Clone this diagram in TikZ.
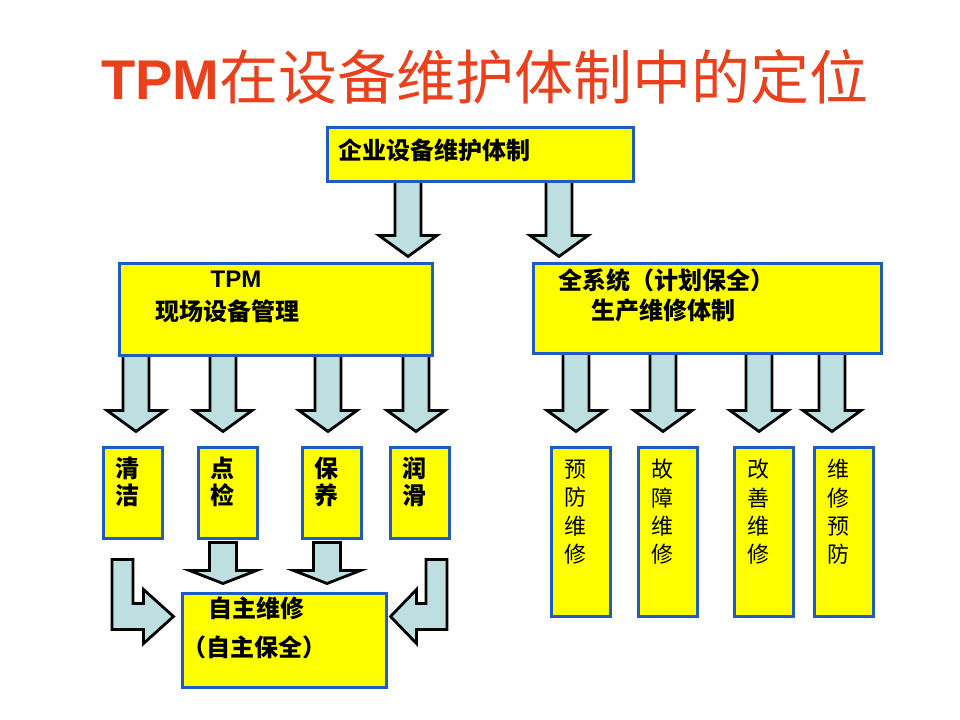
\documentclass[tikz,border=0pt]{standalone}
\usepackage{fontspec}
\setmainfont{Noto Sans CJK SC}
\newfontfamily\latfont{Liberation Sans}
\usetikzlibrary{calc,positioning,backgrounds}

\definecolor{boxblue}{RGB}{30,92,196}
\definecolor{boxyellow}{RGB}{255,255,0}
\definecolor{arrowfill}{RGB}{190,223,226}
\definecolor{titlered}{RGB}{234,64,28}

% block arrow pointing down: x, from node, to node, shift at start, shift at tip
\def\shaftw{13bp}
\def\headw{29bp}
\def\headl{21bp}
\newcommand{\dnarrow}[5]{%
  \edef\arrx{#1}%
  \path[blockarrow] let \p1=([yshift=#4bp]#2.south), \p2=([yshift=#5bp]#3.north) in
    (\arrx bp-\shaftw,\y1) -- (\arrx bp-\shaftw,\y2+\headl) -- (\arrx bp-\headw,\y2+\headl)
    -- (\arrx bp,\y2) -- (\arrx bp+\headw,\y2+\headl) -- (\arrx bp+\shaftw,\y2+\headl)
    -- (\arrx bp+\shaftw,\y1) -- cycle;}

\begin{document}
\begin{tikzpicture}[x=1bp, y=-1bp,
    ybox/.style={draw=boxblue, fill=boxyellow, line width=3bp, inner sep=0pt},
    blockarrow/.style={draw=black, fill=arrowfill, line width=2.8bp, line join=miter},
    boxtext/.style={inner sep=0pt, align=left, font=\bfseries\fontsize{24bp}{33bp}\selectfont},
    coltext/.style={inner sep=0pt, align=center, font=\bfseries\fontsize{24bp}{27bp}\selectfont},
    thintext/.style={inner sep=0pt, align=center, font=\fontsize{22bp}{28.3bp}\selectfont},
]

\useasboundingbox (0,0) rectangle (960,720);

% === Title ===
\node[anchor=base, text=titlered, inner sep=0pt] (title) at (485,100)
    {{\latfont\bfseries\fontsize{56bp}{60bp}\selectfont TPM}{\fontsize{59bp}{66bp}\selectfont 在设备维护体制中的定位}};

% === Top level ===
\node[ybox, minimum width=306bp, minimum height=53bp] (top) at (480,154.5) {};
\node[boxtext, anchor=west] (toptxt) at ([xshift=13bp,yshift=4.5bp]top.west) {企业设备维护体制};

% === Second level ===
\node[ybox, minimum width=312bp, minimum height=92bp] (tpm) at (276,309) {};
\node[boxtext, anchor=west] (tpmtxt) at ([xshift=37bp,yshift=12.5bp]tpm.west)
    {\hspace*{55bp}{\latfont TPM}\\现场设备管理};
\node[ybox, minimum width=348bp, minimum height=90bp] (pss) at (707,308) {};
\node[boxtext, anchor=west, font=\bfseries\fontsize{24bp}{30bp}\selectfont] (psstxt) at ([xshift=27bp,yshift=13bp]pss.west)
    {全系统（计划保全）\\\hspace*{33bp}生产维修体制};

% === TPM items ===
\foreach \nm/\px/\t in {qj/132.5/{清\\洁}, dj/227.5/{点\\检}, by/331.5/{保\\养}, rh/419.5/{润\\滑}} {
    \node[ybox, minimum width=59bp, minimum height=91bp] (\nm) at (\px,492.5) {};
    \node[coltext] (\nm-t) at ([xshift=-5.5bp,yshift=-36.5bp]\nm.north) {\t};
}

% === Planned maintenance items ===
\foreach \nm/\px/\t in {yf/580.5/{预\\防\\维\\修}, gz/667.5/{故\\障\\维\\修}, gs/763.5/{改\\善\\维\\修}, wx/843.5/{维\\修\\预\\防}} {
    \node[ybox, minimum width=59bp, minimum height=169bp] (\nm) at (\px,531.5) {};
    \node[thintext] (\nm-t) at ([xshift=-5bp,yshift=-66.5bp]\nm.north) {\t};
}

% === Autonomous maintenance ===
\node[ybox, minimum width=204bp, minimum height=94bp] (zz) at (284,640) {};
\node[boxtext, anchor=west, font=\bfseries\fontsize{24bp}{39bp}\selectfont] (zztxt) at ([xshift=2bp,yshift=12.5bp]zz.west)
    {\hspace*{26bp}自主维修\\（自主保全）};

% === Arrows ===
\begin{pgfonlayer}{background}
\dnarrow{408}{top}{tpm}{3}{5}
\dnarrow{559}{top}{pss}{3}{5}
\foreach \ax/\bx in {136/qj, 223/dj, 328/by, 416/rh} {\dnarrow{\ax}{tpm}{\bx}{3}{14}}
\foreach \ax/\bx in {576/yf, 663/gz, 759/gs, 832/wx} {\dnarrow{\ax}{pss}{\bx}{3}{14}}
\begin{scope}
    \def\shaftw{13.5bp}\def\headw{33.5bp}\def\headl{13bp}
    \dnarrow{223}{dj}{zz}{-3}{8}
    \dnarrow{327}{by}{zz}{-3}{8}
\end{scope}
% L-shaped arrows into the box
\path[blockarrow] let \p1=(qj.south), \p2=(zz.north west), \p3=(\x1-10bp,\y2-25bp) in
    (\x3-10.5bp,\y1-20bp) -- (\x3+10.5bp,\y1-20bp) -- (\x3+10.5bp,\y3+13bp) -- (\x2-37bp,\y3+13bp)
    -- (\x2-37bp,\y3+27bp) -- (\x2-7bp,\y3) -- (\x2-37bp,\y3-27bp) -- (\x2-37bp,\y3-13bp)
    -- (\x3-10.5bp,\y3-13bp) -- cycle;
\path[blockarrow] let \p1=(rh.south), \p2=(zz.north east), \p3=(\x1+17bp,\y2-25bp) in
    (\x3+10.5bp,\y1-20bp) -- (\x3-10.5bp,\y1-20bp) -- (\x3-10.5bp,\y3+13bp) -- (\x2+29bp,\y3+13bp)
    -- (\x2+29bp,\y3+27bp) -- (\x2+3bp,\y3) -- (\x2+29bp,\y3-27bp) -- (\x2+29bp,\y3-13bp)
    -- (\x3+10.5bp,\y3-13bp) -- cycle;
\end{pgfonlayer}

\end{tikzpicture}
\end{document}
